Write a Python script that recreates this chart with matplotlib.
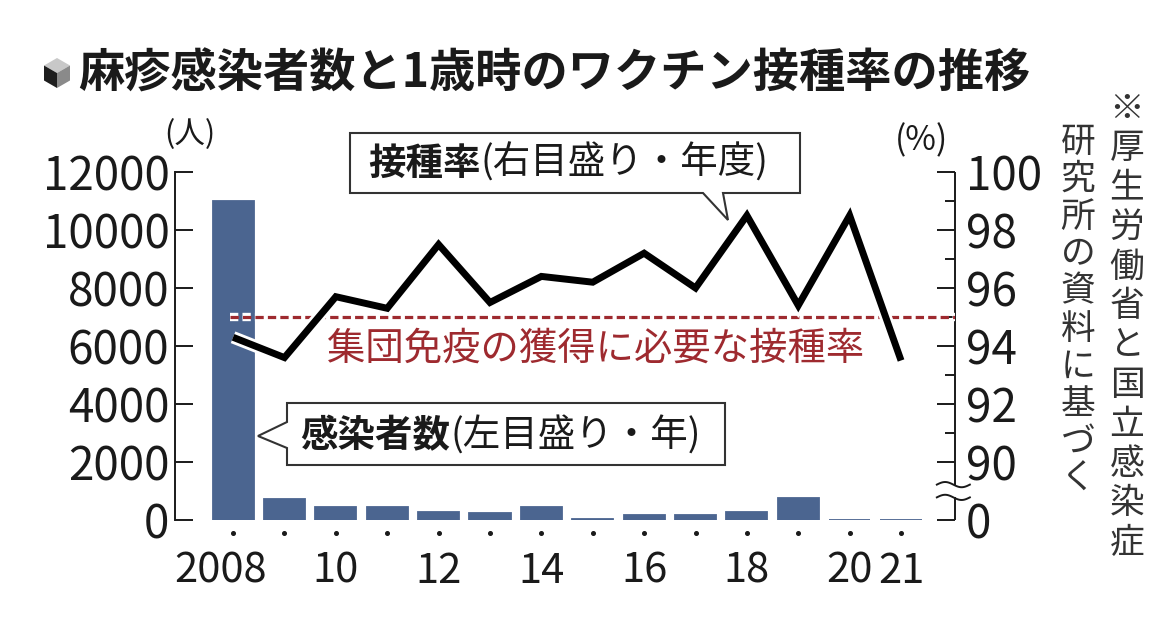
import matplotlib
matplotlib.use("Agg")
import matplotlib.pyplot as plt
import matplotlib.patheffects as pe
import numpy as np
from matplotlib.patches import Polygon
from matplotlib.transforms import ScaledTranslation, blended_transform_factory

plt.rcParams["font.family"] = ["Noto Sans CJK JP", "DejaVu Sans"]

# data
YEARS = [2008, 2009, 2010, 2011, 2012, 2013, 2014, 2015, 2016, 2017, 2018, 2019, 2020, 2021]
CASES = [11013, 741, 447, 439, 283, 229, 462, 35, 165, 186, 282, 744, 10, 6]
VACC_RATE = [94.3, 93.6, 95.7, 95.3, 97.5, 95.5, 96.4, 96.2, 97.2, 96.0, 98.5, 95.4, 98.5, 93.5]
HERD_RATE = 95

XTICK_YEARS = [2008, 2010, 2012, 2014, 2016, 2018, 2020, 2021]
XTICK_LABELS = ["2008", "10", "12", "14", "16", "18", "20", "21"]
LEFT_TICKS = [0, 2000, 4000, 6000, 8000, 10000, 12000]
RIGHT_TICKS = [88, 90, 92, 94, 96, 98, 100]
RIGHT_TICK_LABELS = ["0", "90", "92", "94", "96", "98", "100"]
RIGHT_MINOR = [91, 93, 95, 97, 99]

TITLE = "麻疹感染者数と1歳時のワクチン接種率の推移"
RATE_BOLD, RATE_REST = "接種率", "(右目盛り・年度)"
CASE_BOLD, CASE_REST = "感染者数", "(左目盛り・年)"
HERD_LABEL = "集団免疫の獲得に必要な接種率"
SOURCE_COL1 = "※厚生労働省と国立感染症"
SOURCE_COL2 = "研究所の資料に基づく"

BAR_COLOR = "#4b6590"
RED = "#9e2a2f"
INK = "#1a1a1a"

W, H = 1170, 635


def fx(x):
    return x / W


def fy(y):
    return 1 - y / H


def px_poly(points, **kw):
    return Polygon([(fx(x), fy(y)) for x, y in points], closed=True,
                   transform=fig.transFigure, **kw)


fig = plt.figure(figsize=(W / 100, H / 100), dpi=100)
renderer = fig.canvas.get_renderer()
ax = fig.add_axes([fx(175), fy(520), fx(955) - fx(175), fy(172) - fy(520)])
ax2 = ax.twinx()

# bars (left axis)
ax.bar(YEARS, CASES, width=0.8, color=BAR_COLOR, edgecolor=BAR_COLOR,
       linewidth=1.3, zorder=2)
ax.set_xlim(YEARS[0] - 1.13, YEARS[-1] + 1.05)
ax.set_ylim(0, 12000)
ax.set_yticks(LEFT_TICKS)
ax.set_yticklabels([str(v) for v in LEFT_TICKS])
ax.tick_params(axis="y", direction="in", length=13, width=1.4, pad=4,
               labelsize=33, colors=INK)
for side in ("top", "right", "bottom"):
    ax.spines[side].set_visible(False)
ax.spines["left"].set_linewidth(1.4)
ax.spines["left"].set_color(INK)

ax.set_xticks(XTICK_YEARS)
ax.set_xticklabels(XTICK_LABELS)
ax.tick_params(axis="x", length=0, pad=22, labelsize=30, colors=INK)
ax.get_xticklabels()[0].set_transform(
    ax.get_xticklabels()[0].get_transform()
    + ScaledTranslation(-0.13, 0, fig.dpi_scale_trans))
blend_x = blended_transform_factory(ax.transData, ax.transAxes)
ax.plot(YEARS, [-13 / 348] * len(YEARS), ls="none", marker="o", ms=2.6,
        color=INK, transform=blend_x, clip_on=False)

# rate line (right axis)
ax2.set_ylim(88, 100)
ax2.set_yticks(RIGHT_TICKS)
ax2.set_yticklabels(RIGHT_TICK_LABELS)
ax2.set_yticks(RIGHT_MINOR, minor=True)
ax2.tick_params(axis="y", which="major", direction="in", length=13, width=1.4,
                pad=8, labelsize=33, colors=INK)
ax2.tick_params(axis="y", which="minor", direction="in", length=7, width=1.4,
                colors=INK)
for side in ("top", "right", "bottom", "left"):
    ax2.spines[side].set_visible(False)

blend_y = blended_transform_factory(ax2.transAxes, ax2.transData)
ax2.plot([1, 1], [88, 88.78], color=INK, lw=1.4, transform=blend_y,
         clip_on=False, solid_capstyle="butt")
ax2.plot([1, 1], [89.22, 100], color=INK, lw=1.4, transform=blend_y,
         clip_on=False, solid_capstyle="butt")
t = np.linspace(0, 1, 40)
for yc in (88.78, 89.22):
    ax2.plot(1 + (t - 0.55) * 33 / 780, yc + 0.09 * np.sin(2 * np.pi * t),
             color=INK, lw=1.4, transform=blend_y, clip_on=False)

halo = [pe.Stroke(linewidth=9, foreground="white"), pe.Normal()]
ax2.plot([YEARS[0] - 0.06, YEARS[-1] + 1.05], [HERD_RATE, HERD_RATE],
         color=RED, lw=2.3, ls=(0, (2.6, 1.3)), zorder=3,
         path_effects=[pe.Stroke(linewidth=6, foreground="white"), pe.Normal()])
ax2.plot(YEARS, VACC_RATE, color="black", lw=5, zorder=4,
         solid_joinstyle="miter", solid_capstyle="butt", path_effects=halo)

# unit labels
fig.text(fx(190), fy(135), "(人)", ha="center", va="center", fontsize=22, color=INK)
fig.text(fx(922), fy(141), "(%)", ha="center", va="center", fontsize=24, color=INK)

# callout boxes
box_kw = dict(facecolor="white", edgecolor="#333333", linewidth=1.5, zorder=5)
fig.add_artist(px_poly([(350, 133), (800, 133), (800, 193), (723, 193),
                        (728, 220), (703, 193), (350, 193)], **box_kw))
fig.add_artist(px_poly([(287, 403), (725, 403), (725, 465), (287, 465),
                        (287, 448), (258, 436), (287, 422)], **box_kw))


def two_part_label(x, y, bold, rest, size):
    first = fig.text(fx(x), fy(y), bold, ha="left", va="center", fontsize=size,
                     fontweight="bold", color=INK, zorder=6)
    x_end = first.get_window_extent(renderer).x1
    fig.text(x_end / W, fy(y), rest, ha="left", va="center", fontsize=size,
             color=INK, zorder=6)


two_part_label(368, 163, RATE_BOLD, RATE_REST, 27)
two_part_label(300, 436, CASE_BOLD, CASE_REST, 27)

fig.text(fx(327), fy(349), HERD_LABEL, ha="left", va="center", fontsize=27.6,
         color=RED, zorder=6)

# title with cube icon
cx, cy, r = 57, 73, 15
hexa = [(cx + r * np.cos(np.radians(a)), cy - r * np.sin(np.radians(a)))
        for a in (90, 150, 210, 270, 330, 30)]
fig.add_artist(px_poly([hexa[0], hexa[1], (cx, cy), hexa[5]], facecolor="#c8c8c8",
                       edgecolor="none"))
fig.add_artist(px_poly([hexa[1], hexa[2], hexa[3], (cx, cy)], facecolor="#1e1e1e",
                       edgecolor="none"))
fig.add_artist(px_poly([(cx, cy), hexa[3], hexa[4], hexa[5]], facecolor="#8a8a8a",
                       edgecolor="none"))
fig.text(fx(78), fy(74), TITLE, ha="left", va="center", fontsize=33.3,
         fontweight="bold", color=INK)

# vertical source note
for i, ch in enumerate(SOURCE_COL1):
    fig.text(fx(1127), fy(109 + i * 39.5), ch, ha="center", va="center",
             fontsize=25, color="#333333")
for i, ch in enumerate(SOURCE_COL2):
    fig.text(fx(1078), fy(142 + i * 37.5), ch, ha="center", va="center",
             fontsize=25, color="#333333")

fig.savefig("out.png", dpi=100, facecolor="white")
